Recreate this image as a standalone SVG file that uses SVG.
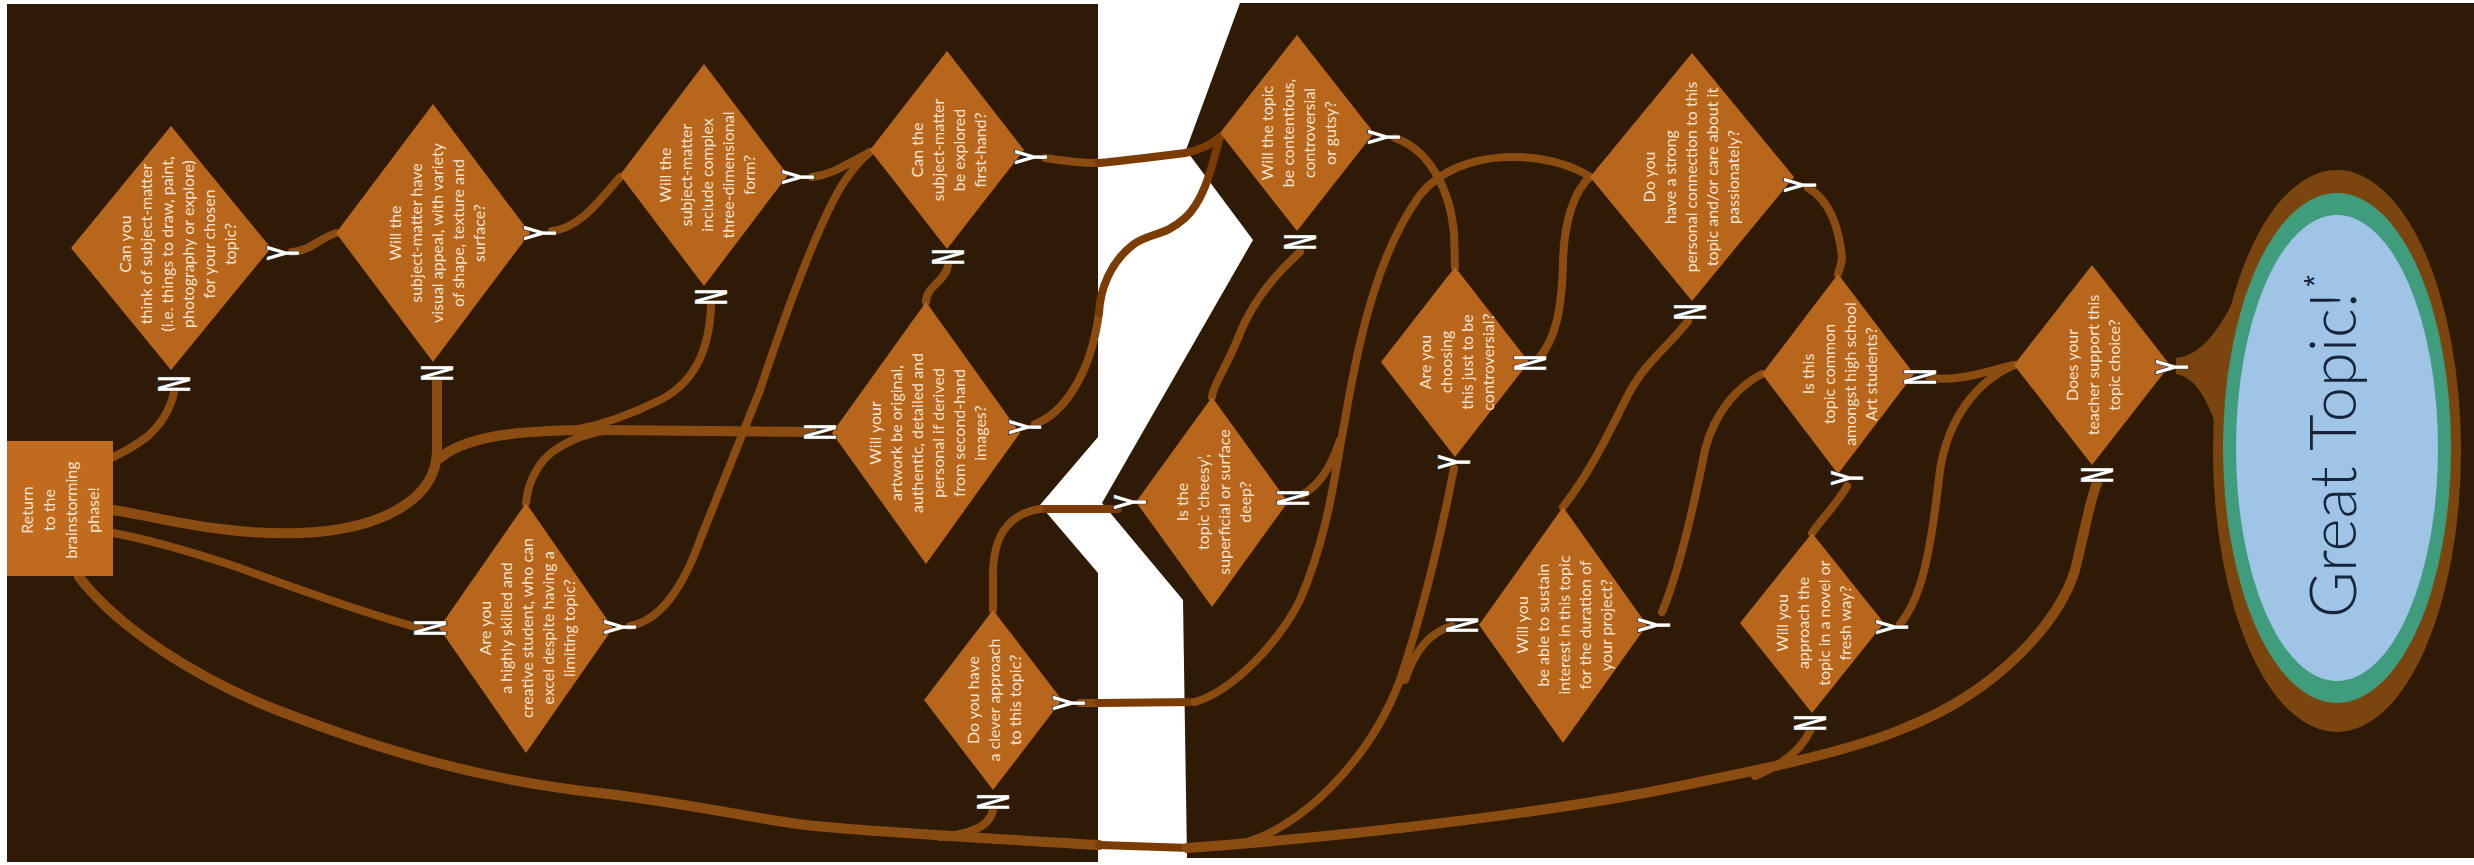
<svg xmlns="http://www.w3.org/2000/svg" width="2474" height="865" viewBox="0 0 2474 865">
<style>
.bg{fill:#2f1a05}
.dm{fill:#b8661c}
.q{font-family:Lato,"Liberation Sans",sans-serif;font-size:16px;fill:#f4e4cf;text-anchor:middle;dominant-baseline:central}
.c{fill:none;stroke:#8b4c12;stroke-width:8;stroke-linecap:round;stroke-linejoin:round}
.t{stroke-width:10}
.h{fill:none;stroke:#7a3c02;stroke-width:8;stroke-linecap:round;stroke-linejoin:round}
.yn{font-family:"Liberation Sans",Arial,sans-serif;font-weight:bold;font-size:46px;fill:#ffffff;stroke:#2a2a2a;stroke-width:2;paint-order:stroke;text-anchor:middle;dominant-baseline:central}
</style>
<rect width="2474" height="865" fill="#ffffff"/>
<g id="panels">
<polygon class="bg" points="7,4 1098,4 1098,437 1040,505 1098,573 1098,862 7,862"/>
<polygon class="bg" points="1240,3 2474,3 2474,858 1187,858 1183,600 1102,503 1253,240 1186,150"/>
</g>
<g id="connectors">
<path class="c" d="M292,252 C310,251 320,238 336,233"/>
<path class="c" d="M552,231 C580,228 600,200 620,177"/>
<path class="c" d="M812,177 C835,174 850,162 870,152"/>
<path class="c" d="M1045,158 C1070,162 1090,163 1099,163"/>
<path class="h" d="M1099,163 C1130,160 1160,156 1185,153 C1200,150 1210,146 1220,137"/>
<path class="c" d="M1035,424 C1060,415 1090,380 1099,313"/>
<path class="h" d="M1099,313 C1100,290 1110,262 1134,244 C1150,233 1165,236 1185,218 C1205,200 1212,165 1220,137"/>
<path class="c" d="M948,266 C945,282 926,286 926,302"/>
<path class="c" d="M174,392 C170,412 160,425 148,436 C135,446 124,452 113,457"/>
<path class="c t" d="M437,381 L437,450 C437,500 380,530 300,533 C220,536 150,515 113,510"/>
<path class="c t" d="M812,432 L600,430 C540,430 470,432 440,458"/>
<path class="c" d="M711,305 C710,340 700,380 660,400 C630,415 600,425 575,430"/>
<path class="c" d="M526,503 C528,480 540,460 555,450 C570,440 590,432 610,430"/>
<path class="c" d="M630,626 C660,620 682,590 700,540 L760,390 C790,300 818,225 842,185 C852,170 860,160 870,152"/>
<path class="c" d="M420,628 C370,615 300,590 237,567 C180,548 140,538 113,533"/>
<path class="c t" d="M79,577 C120,630 200,680 277,710 C380,750 480,780 600,793 C700,805 760,820 806,825 C870,832 950,836 1099,845"/>
<path class="h" d="M1099,845 L1190,848"/>
<path class="c" d="M993,810 C990,826 972,834 940,837"/>
<path class="c t" d="M1187,848 C1300,840 1500,820 1650,792 C1750,772 1850,752 1907,727 C2000,690 2060,620 2075,570 C2085,530 2090,500 2097,483"/>
<path class="c" d="M1810,731 C1800,752 1780,766 1755,776"/>
<path class="c" d="M1080,703 L1099,703"/>
<path class="h" d="M1099,703 L1195,702"/>
<path class="c" d="M1195,702 C1235,690 1280,640 1300,600 C1330,530 1335,470 1345,420 C1360,330 1380,250 1420,195 C1460,145 1550,150 1590,177"/>
<path class="c" d="M1302,495 C1320,485 1332,465 1340,440"/>
<path class="h" d="M1118,509 L1039,509"/>
<path class="c" d="M1039,509 C1005,515 992,540 993,580 L993,610"/>
<path class="c" d="M1300,252 C1280,270 1252,300 1238,338 C1225,370 1213,385 1212,397"/>
<path class="c" d="M1395,138 C1430,150 1450,190 1454,233 L1455,267"/>
<path class="c" d="M1539,358 C1555,340 1562,310 1563,262 C1564,220 1575,190 1590,177"/>
<path class="c" d="M1688,321 C1670,345 1645,362 1628,395 C1610,430 1592,470 1563,507"/>
<path class="c" d="M1808,188 C1830,200 1840,230 1842,260 L1838,274"/>
<path class="c" d="M1662,612 C1680,570 1695,500 1705,450 C1715,410 1740,385 1762,374"/>
<path class="c" d="M1847,486 C1840,500 1825,515 1812,533"/>
<path class="c" d="M1930,378 C1960,382 1990,370 2014,365"/>
<path class="c" d="M1900,624 C1920,600 1930,560 1940,470 C1948,420 1975,382 2014,365"/>
<path class="c" d="M1454,468 C1440,540 1420,620 1400,680 C1370,760 1300,830 1240,844"/>
<path class="c" d="M1452,626 C1430,632 1415,650 1405,680"/>
</g>
<g id="great-topic">
<path fill="#7b4510" d="M2176,358 C2200,356 2220,330 2236,295 L2216,425 C2205,395 2195,378 2176,374 Z"/>
<ellipse cx="2337" cy="451" rx="124" ry="281" fill="#7b4510"/>
<ellipse cx="2337" cy="448" rx="114" ry="255" fill="#3f9c7c"/>
<ellipse cx="2337" cy="448" rx="101" ry="233" fill="#9fc4e6"/>
<text transform="translate(2356,455) rotate(-90)" text-anchor="middle" font-family="Lato,'Liberation Sans',sans-serif" font-weight="300" font-size="66" fill="#16253a" textLength="326" lengthAdjust="spacingAndGlyphs">Great Topic!</text>
<text transform="translate(2324,281) rotate(-90)" text-anchor="middle" font-family="'Liberation Sans',sans-serif" font-size="30" fill="#16253a">*</text>
</g>
<g id="return">
<rect x="7" y="441" width="106" height="135" fill="#c06b1e"/>
<text class="q" transform="translate(59,510) rotate(-90)"><tspan x="0" y="-33">Return</tspan><tspan x="0" y="-11">to the</tspan><tspan x="0" y="11">brainstorming</tspan><tspan x="0" y="33">phase!</tspan></text>
</g>
<g id="d1">
<polygon class="dm" points="171,126 271,248 171,370 71,248"/>
<text class="q" transform="translate(176,244) rotate(-90)"><tspan x="0" y="-52">Can you</tspan><tspan x="0" y="-31">think of subject-matter</tspan><tspan x="0" y="-10">(i.e. things to draw, paint,</tspan><tspan x="0" y="11">photography or explore)</tspan><tspan x="0" y="32">for your chosen</tspan><tspan x="0" y="53">topic?</tspan></text>
<text class="yn" transform="translate(283,253) rotate(-90) scale(0.5,1)">Y</text>
<text class="yn" transform="translate(174,384) rotate(-90) scale(0.5,1)">N</text>
</g>
<g id="d2">
<polygon class="dm" points="433,104 530,233 433,362 336,233"/>
<text class="q" transform="translate(436,233) rotate(-90)"><tspan x="0" y="-42">Will the</tspan><tspan x="0" y="-21">subject-matter have</tspan><tspan x="0" y="0">visual appeal, with variety</tspan><tspan x="0" y="21">of shape, texture and</tspan><tspan x="0" y="42">surface?</tspan></text>
<text class="yn" transform="translate(540,233) rotate(-90) scale(0.5,1)">Y</text>
<text class="yn" transform="translate(437,373) rotate(-90) scale(0.5,1)">N</text>
</g>
<g id="d3">
<polygon class="dm" points="704,64 788,175 704,286 620,175"/>
<text class="q" transform="translate(706,175) rotate(-90)"><tspan x="0" y="-42">Will the</tspan><tspan x="0" y="-21">subject-matter</tspan><tspan x="0" y="0">include complex</tspan><tspan x="0" y="21">three-dimensional</tspan><tspan x="0" y="42">form?</tspan></text>
<text class="yn" transform="translate(798,177) rotate(-90) scale(0.5,1)">Y</text>
<text class="yn" transform="translate(711,297) rotate(-90) scale(0.5,1)">N</text>
</g>
<g id="d4">
<polygon class="dm" points="947,51 1024,150 947,249 870,150"/>
<text class="q" transform="translate(947,150) rotate(-90)"><tspan x="0" y="-31">Can the</tspan><tspan x="0" y="-10">subject-matter</tspan><tspan x="0" y="11">be explored</tspan><tspan x="0" y="32">first-hand?</tspan></text>
<text class="yn" transform="translate(1031,157) rotate(-90) scale(0.5,1)">Y</text>
<text class="yn" transform="translate(948,257) rotate(-90) scale(0.5,1)">N</text>
</g>
<g id="d5">
<polygon class="dm" points="926,302 1020,433 926,564 832,433"/>
<text class="q" transform="translate(926,433) rotate(-90)"><tspan x="0" y="-52">Will your</tspan><tspan x="0" y="-31">artwork be original,</tspan><tspan x="0" y="-10">authentic, detailed and</tspan><tspan x="0" y="11">personal if derived</tspan><tspan x="0" y="32">from second-hand</tspan><tspan x="0" y="53">images?</tspan></text>
<text class="yn" transform="translate(1025,427) rotate(-90) scale(0.5,1)">Y</text>
<text class="yn" transform="translate(820,432) rotate(-90) scale(0.5,1)">N</text>
</g>
<g id="d6">
<polygon class="dm" points="526,503 613,628 526,753 439,628"/>
<text class="q" transform="translate(526,628) rotate(-90)"><tspan x="0" y="-42">Are you</tspan><tspan x="0" y="-21">a highly skilled and</tspan><tspan x="0" y="0">creative student, who can</tspan><tspan x="0" y="21">excel despite having a</tspan><tspan x="0" y="42">limiting topic?</tspan></text>
<text class="yn" transform="translate(620,627) rotate(-90) scale(0.5,1)">Y</text>
<text class="yn" transform="translate(430,628) rotate(-90) scale(0.5,1)">N</text>
</g>
<g id="d7">
<polygon class="dm" points="1297,35 1374,133 1297,231 1220,133"/>
<text class="q" transform="translate(1297,133) rotate(-90)"><tspan x="0" y="-31">Will the topic</tspan><tspan x="0" y="-10">be contentious,</tspan><tspan x="0" y="11">controversial</tspan><tspan x="0" y="32">or gutsy?</tspan></text>
<text class="yn" transform="translate(1384,137) rotate(-90) scale(0.5,1)">Y</text>
<text class="yn" transform="translate(1300,242) rotate(-90) scale(0.5,1)">N</text>
</g>
<g id="d8">
<polygon class="dm" points="1455,267 1529,362 1455,457 1381,362"/>
<text class="q" transform="translate(1455,362) rotate(-90)"><tspan x="0" y="-31">Are you</tspan><tspan x="0" y="-10">choosing</tspan><tspan x="0" y="11">this just to be</tspan><tspan x="0" y="32">controversial?</tspan></text>
<text class="yn" transform="translate(1454,462) rotate(-90) scale(0.5,1)">Y</text>
<text class="yn" transform="translate(1530,363) rotate(-90) scale(0.5,1)">N</text>
</g>
<g id="d9">
<polygon class="dm" points="1692,53 1794,177 1692,301 1590,177"/>
<text class="q" transform="translate(1690,177) rotate(-90)"><tspan x="0" y="-42">Do you</tspan><tspan x="0" y="-21">have a strong</tspan><tspan x="0" y="0">personal connection to this</tspan><tspan x="0" y="21">topic and/or care about it</tspan><tspan x="0" y="42">passionately?</tspan></text>
<text class="yn" transform="translate(1800,185) rotate(-90) scale(0.5,1)">Y</text>
<text class="yn" transform="translate(1690,312) rotate(-90) scale(0.5,1)">N</text>
</g>
<g id="d10">
<polygon class="dm" points="1212,397 1288,502 1212,607 1136,502"/>
<text class="q" transform="translate(1212,502) rotate(-90)"><tspan x="0" y="-31">Is the</tspan><tspan x="0" y="-10">topic 'cheesy',</tspan><tspan x="0" y="11">superficial or surface</tspan><tspan x="0" y="32">deep?</tspan></text>
<text class="yn" transform="translate(1130,502) rotate(-90) scale(0.5,1)">Y</text>
<text class="yn" transform="translate(1293,498) rotate(-90) scale(0.5,1)">N</text>
</g>
<g id="d11">
<polygon class="dm" points="1563,507 1647,625 1563,743 1479,625"/>
<text class="q" transform="translate(1563,625) rotate(-90)"><tspan x="0" y="-42">Will you</tspan><tspan x="0" y="-21">be able to sustain</tspan><tspan x="0" y="0">interest in this topic</tspan><tspan x="0" y="21">for the duration of</tspan><tspan x="0" y="42">your project?</tspan></text>
<text class="yn" transform="translate(1654,625) rotate(-90) scale(0.5,1)">Y</text>
<text class="yn" transform="translate(1462,625) rotate(-90) scale(0.5,1)">N</text>
</g>
<g id="d12">
<polygon class="dm" points="1838,274 1914,374 1838,474 1762,374"/>
<text class="q" transform="translate(1838,374) rotate(-90)"><tspan x="0" y="-31">Is this</tspan><tspan x="0" y="-10">topic common</tspan><tspan x="0" y="11">amongst high school</tspan><tspan x="0" y="32">Art students?</tspan></text>
<text class="yn" transform="translate(1847,478) rotate(-90) scale(0.5,1)">Y</text>
<text class="yn" transform="translate(1920,377) rotate(-90) scale(0.5,1)">N</text>
</g>
<g id="d13">
<polygon class="dm" points="2092,265 2170,365 2092,465 2014,365"/>
<text class="q" transform="translate(2092,365) rotate(-90)"><tspan x="0" y="-21">Does your</tspan><tspan x="0" y="0">teacher support this</tspan><tspan x="0" y="21">topic choice?</tspan></text>
<text class="yn" transform="translate(2172,367) rotate(-90) scale(0.5,1)">Y</text>
<text class="yn" transform="translate(2097,475) rotate(-90) scale(0.5,1)">N</text>
</g>
<g id="d14">
<polygon class="dm" points="1812,533 1884,623 1812,713 1740,623"/>
<text class="q" transform="translate(1812,623) rotate(-90)"><tspan x="0" y="-31">Will you</tspan><tspan x="0" y="-10">approach the</tspan><tspan x="0" y="11">topic in a novel or</tspan><tspan x="0" y="32">fresh way?</tspan></text>
<text class="yn" transform="translate(1892,627) rotate(-90) scale(0.5,1)">Y</text>
<text class="yn" transform="translate(1810,723) rotate(-90) scale(0.5,1)">N</text>
</g>
<g id="d15">
<polygon class="dm" points="993,610 1062,700 993,790 924,700"/>
<text class="q" transform="translate(993,700) rotate(-90)"><tspan x="0" y="-21">Do you have</tspan><tspan x="0" y="0">a clever approach</tspan><tspan x="0" y="21">to this topic?</tspan></text>
<text class="yn" transform="translate(1069,703) rotate(-90) scale(0.5,1)">Y</text>
<text class="yn" transform="translate(993,802) rotate(-90) scale(0.5,1)">N</text>
</g>
</svg>
